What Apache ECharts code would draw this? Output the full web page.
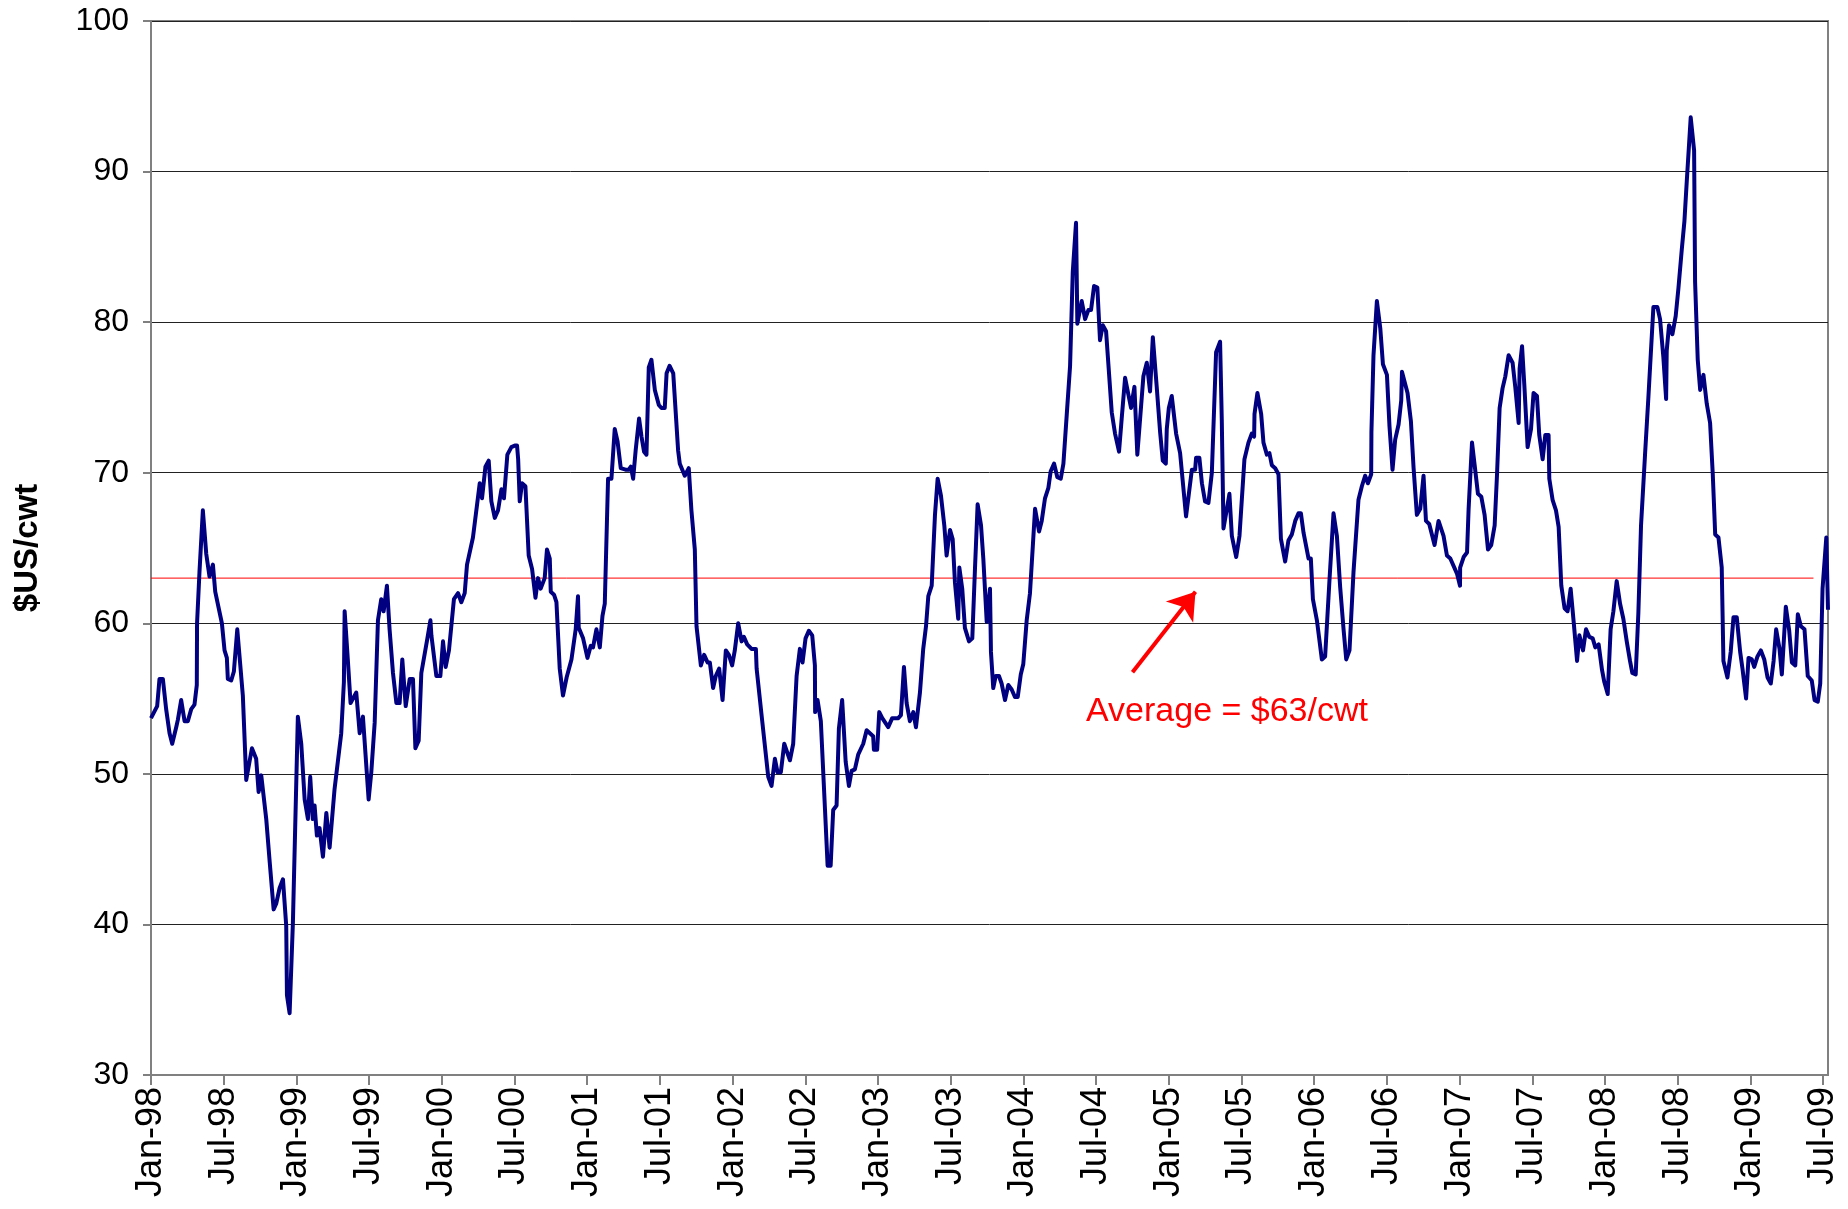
<!DOCTYPE html>
<html><head><meta charset="utf-8">
<script src="https://cdn.jsdelivr.net/npm/echarts@6/dist/echarts.min.js"></script>
<style>html,body{margin:0;padding:0;background:#fff}#c{width:1848px;height:1209px}</style>
</head><body><div id="c"></div><script>
// x positions: months since Jan-1998, values in $US/cwt
const tickLabels = ['Jan-98','Jul-98','Jan-99','Jul-99','Jan-00','Jul-00','Jan-01','Jul-01','Jan-02','Jul-02','Jan-03','Jul-03','Jan-04','Jul-04','Jan-05','Jul-05','Jan-06','Jul-06','Jan-07','Jul-07','Jan-08','Jul-08','Jan-09','Jul-09'];
const months = [0.0,0.51,0.70,0.98,1.25,1.53,1.75,2.08,2.22,2.49,2.77,3.04,3.32,3.59,3.78,3.80,4.0,4.28,4.56,4.83,5.11,5.30,5.85,6.07,6.26,6.34,6.62,6.84,7.12,7.58,7.86,8.33,8.68,8.88,9.10,9.51,9.79,10.12,10.34,10.61,10.89,11.16,11.22,11.44,11.71,12.12,12.40,12.68,12.95,13.14,13.35,13.5,13.69,13.91,14.19,14.47,14.74,15.15,15.70,15.92,15.98,16.25,16.47,16.94,17.22,17.49,17.96,18.18,18.46,18.73,19.0,19.2,19.47,19.69,19.97,20.25,20.52,20.74,21.02,21.35,21.62,21.82,22.09,22.31,22.81,23.06,23.14,23.55,23.88,24.1,24.32,24.59,25.0,25.34,25.61,25.89,26.08,26.57,27.13,27.32,27.6,27.87,28.09,28.37,28.64,28.92,29.13,29.41,29.74,30.02,30.21,30.3,30.43,30.62,30.9,31.17,31.45,31.73,31.94,32.16,32.49,32.68,32.91,32.99,33.26,33.46,33.73,34.0,34.3,34.7,35.05,35.24,35.3,35.66,36.02,36.29,36.48,36.76,37.04,37.26,37.45,37.72,38.0,38.27,38.5,38.77,39.16,39.43,39.6,39.79,40.0,40.28,40.48,40.69,40.89,41.08,41.3,41.58,41.91,42.13,42.4,42.55,42.8,43.1,43.5,43.64,44.05,44.38,44.6,44.88,45.02,45.38,45.65,45.93,46.12,46.39,46.61,46.89,47.17,47.44,47.69,47.96,48.18,48.46,48.74,48.93,49.2,49.56,49.92,49.98,50.39,50.94,51.21,51.49,51.71,51.98,52.26,52.73,53.0,53.28,53.55,53.77,54.02,54.29,54.57,54.79,54.81,55.01,55.28,55.62,55.84,56.09,56.3,56.58,56.77,57.04,57.33,57.6,57.82,58.09,58.37,58.78,59.06,59.6,59.66,59.93,60.1,60.35,60.84,61.17,61.67,61.89,62.14,62.36,62.63,62.91,63.13,63.46,63.73,63.96,64.15,64.43,64.7,64.92,65.19,65.47,65.66,65.94,66.16,66.35,66.62,66.71,66.95,67.17,67.51,67.78,68.0,68.22,68.5,68.69,68.97,69.05,69.24,69.32,69.51,69.71,69.98,70.2,70.48,70.75,71.03,71.3,71.53,71.78,71.99,72.27,72.54,72.96,73.29,73.51,73.78,74.06,74.25,74.53,74.8,75.08,75.3,75.57,75.85,76.07,76.34,76.45,76.59,76.81,77.09,77.36,77.58,77.83,78.1,78.32,78.55,78.82,79.29,79.56,79.89,80.11,80.39,80.88,81.16,81.4,81.9,82.18,82.45,82.68,83.0,83.28,83.5,83.75,83.83,84.0,84.24,84.6,84.93,85.42,85.9,86.17,86.25,86.52,86.73,86.99,87.27,87.55,87.9,88.23,88.37,88.51,88.79,89.0,89.2,89.56,89.83,90.24,90.57,90.85,91.04,91.07,91.31,91.62,91.81,92.09,92.3,92.5,92.78,93.05,93.25,93.6,93.87,94.15,94.43,94.7,94.9,95.12,95.53,95.72,95.86,95.89,96.22,96.63,96.9,97.26,97.59,97.87,98.14,98.42,98.64,98.91,99.24,99.65,99.93,100.2,100.43,100.7,100.72,100.89,101.17,101.45,101.67,102.0,102.21,102.46,102.68,102.96,103.18,103.24,103.7,103.98,104.2,104.47,104.75,105.02,105.22,105.49,105.93,106.26,106.67,106.95,107.23,107.78,108.03,108.04,108.33,108.61,108.74,109.02,109.24,109.51,109.79,110.06,110.34,110.61,110.89,111.08,111.3,111.54,111.77,112.04,112.37,112.59,112.87,112.95,113.15,113.34,113.61,113.89,114.1,114.38,114.57,114.85,115.07,115.34,115.4,115.67,115.95,116.17,116.39,116.66,116.91,117.16,117.41,117.69,117.88,118.18,118.43,118.7,118.98,119.2,119.47,119.75,119.94,120.22,120.46,120.69,120.96,121.24,121.51,121.79,122.06,122.25,122.53,122.75,122.97,123.3,123.57,123.99,124.32,124.54,124.81,125.04,125.09,125.28,125.56,125.83,126.05,126.33,126.55,126.74,127.07,127.35,127.43,127.65,127.85,128.12,128.39,128.67,128.89,129.09,129.36,129.63,129.77,130.1,130.37,130.6,130.87,131.15,131.34,131.64,131.84,132.11,132.31,132.58,132.86,133.14,133.41,133.68,133.91,134.12,134.4,134.59,134.92,135.2,135.42,135.7,135.91,136.16,136.46,136.73,137.06,137.29,137.56,137.76,137.95,138.26,138.4];
const prices = [53.7,54.5,56.3,56.3,54.3,52.7,52.0,53.1,53.6,54.9,53.5,53.5,54.3,54.6,55.9,60.0,63.4,67.5,64.6,63.1,63.9,62.1,60.0,58.2,57.7,56.3,56.2,56.8,59.6,55.2,49.6,51.7,51.0,48.8,49.9,47.0,44.2,41.0,41.4,42.4,43.0,39.9,35.3,34.1,40.1,53.8,52.0,48.3,47.0,49.8,47.0,47.9,45.9,46.4,44.5,47.4,45.1,49.0,52.7,56.1,60.8,57.5,54.7,55.4,52.7,53.8,48.3,50.1,53.4,60.2,61.6,60.8,62.5,59.6,56.7,54.7,54.7,57.6,54.5,56.3,56.3,51.7,52.2,56.7,59.0,60.2,59.2,56.5,56.5,58.8,57.1,58.2,61.6,62.0,61.4,62.0,63.9,65.7,69.3,68.3,70.4,70.8,68.1,67.0,67.5,68.9,68.3,71.2,71.7,71.8,71.8,70.9,68.1,69.3,69.1,64.5,63.6,61.7,63.0,62.3,63.0,64.9,64.3,62.1,61.9,61.4,57.0,55.2,56.4,57.6,59.6,61.8,59.7,59.0,57.7,58.5,58.4,59.6,58.4,60.5,61.3,69.6,69.6,72.9,72.1,70.3,70.2,70.2,70.4,69.6,71.5,73.6,72.4,71.4,71.2,77.0,77.5,75.5,74.5,74.3,74.3,76.6,77.1,76.6,71.5,70.6,69.8,70.3,67.5,64.9,59.8,57.2,57.9,57.4,57.4,55.7,56.5,57.0,54.9,58.2,57.9,57.2,58.2,60.0,58.8,59.1,58.6,58.3,58.3,57.0,53.9,49.8,49.2,51.0,50.1,50.1,52.0,50.9,52.0,56.5,58.3,57.4,59.0,59.5,59.2,57.2,54.1,54.9,53.5,47.7,43.9,43.9,47.6,47.9,53.0,54.9,50.8,49.2,50.2,50.3,51.3,52.0,52.9,52.5,51.6,51.6,54.1,53.7,53.1,53.7,53.7,53.9,57.1,54.7,53.5,54.1,53.1,55.4,58.3,59.8,61.8,62.5,67.2,69.6,68.5,66.5,64.5,66.2,65.6,62.7,60.3,63.7,62.3,59.7,58.8,59.0,63.6,67.9,66.5,64.3,60.1,60.1,62.3,58.1,55.7,56.5,56.5,56.0,54.9,55.9,55.6,55.1,55.1,56.6,57.3,60.2,62.0,67.6,66.1,66.8,68.3,69.0,70.1,70.6,69.7,69.6,70.6,73.8,77.1,83.3,86.6,79.9,79.9,81.4,80.2,80.8,80.8,82.4,82.3,78.8,79.8,79.4,74.0,72.6,71.4,73.6,76.3,74.3,75.7,71.2,76.4,77.3,75.4,79.0,75.7,72.7,70.8,70.6,72.9,74.3,75.1,72.6,71.3,67.1,70.2,70.2,71.0,71.0,69.3,68.1,68.0,70.0,78.0,78.7,73.5,66.3,67.6,68.6,65.8,64.4,65.8,70.9,72.0,72.6,72.4,73.9,75.3,73.9,72.0,71.2,71.3,70.5,70.3,69.9,65.6,64.1,65.5,65.9,66.8,67.3,67.3,66.0,64.3,64.3,64.3,61.6,60.2,57.6,57.8,62.9,67.3,65.8,62.4,59.6,57.6,58.2,63.4,68.2,69.1,69.8,69.3,69.9,72.7,77.8,81.4,79.6,77.2,76.5,73.1,70.2,72.2,73.2,74.8,76.7,75.3,73.4,70.3,67.2,67.6,69.8,66.8,66.6,65.2,66.8,65.8,64.5,64.3,63.3,62.5,63.7,64.4,64.7,67.6,72.0,70.5,68.6,68.4,67.2,64.9,65.2,66.5,69.8,74.3,75.6,76.4,77.8,77.3,75.7,73.3,76.9,78.4,75.8,71.7,72.9,75.3,75.1,72.5,70.9,72.5,72.5,69.6,68.2,67.5,66.4,62.5,61.0,60.8,62.3,60.1,57.5,59.2,58.2,59.6,59.1,59.0,58.4,58.6,56.9,56.1,55.3,59.6,60.8,62.8,61.3,60.3,58.8,57.5,56.7,56.6,60.7,66.5,71.2,74.9,81.0,81.0,80.2,77.7,74.9,78.1,79.8,79.2,80.4,82.2,84.8,86.7,89.3,93.6,91.4,82.7,77.5,75.5,76.5,74.6,73.3,69.9,65.9,65.7,63.7,57.5,56.4,58.1,60.4,60.4,58.1,57.0,55.0,57.7,57.6,57.1,57.8,58.2,57.6,56.4,56.0,57.5,59.6,58.3,56.6,61.1,59.5,57.4,57.2,60.6,59.8,59.6,56.5,56.2,54.9,54.8,56.0,62.3,65.7,60.9];
const averagePrice = 63;
const averageSpan = [0, 137.2];
const averageLabel = 'Average = $' + averagePrice + '/cwt';

const FONT = "'Liberation Sans', Arial, sans-serif";
const chart = echarts.init(document.getElementById('c'), null, {renderer: 'canvas'});
chart.setOption({
  animation: false,
  backgroundColor: '#ffffff',
  textStyle: {fontFamily: FONT},
  grid: {left: 151, right: 20, top: 21, bottom: 134, show: true, borderColor: '#808080', borderWidth: 2, backgroundColor: 'transparent'},
  xAxis: {
    type: 'value', min: 0, max: 138.4, interval: 6,
    axisLine: {onZero: false, lineStyle: {color: '#808080', width: 2}},
    axisTick: {show: true, length: 10, lineStyle: {color: '#808080', width: 2}},
    splitLine: {show: false},
    axisLabel: {
      rotate: 90, fontSize: 36, color: '#000', margin: 12, fontFamily: FONT,
      showMaxLabel: false,
      formatter: function (v) {
        const k = Math.round(v / 6);
        if (Math.abs(v - k * 6) > 1e-6) return '';
        return tickLabels[k] || '';
      }
    }
  },
  yAxis: {
    type: 'value', min: 30, max: 100, interval: 10,
    name: '$US/cwt', nameLocation: 'middle', nameGap: 107,
    nameTextStyle: {fontSize: 33, fontWeight: 'bold', color: '#000', fontFamily: FONT},
    axisLine: {show: true, lineStyle: {color: '#808080', width: 2}},
    axisTick: {show: true, length: 8, lineStyle: {color: '#808080', width: 2}},
    axisLabel: {fontSize: 32, color: '#000', margin: 22, fontFamily: FONT},
    splitLine: {show: true, lineStyle: {color: '#222', width: 1}}
  },
  series: [
    {
      name: 'Average', type: 'line', z: 2, silent: true, symbol: 'none',
      data: [[averageSpan[0], averagePrice], [averageSpan[1], averagePrice]],
      lineStyle: {color: '#ff0000', width: 1},
      markLine: {
        silent: true, symbol: ['none', 'arrow'], symbolSize: 26,
        lineStyle: {color: '#ff0000', width: 4, type: 'solid'},
        itemStyle: {color: '#ff0000'},
        label: {show: false},
        emphasis: {disabled: true},
        data: [[
          {coord: [81.0, 56.75], symbol: 'none'},
          {coord: [86.2, 62.1], symbol: 'arrow', symbolSize: 26, itemStyle: {color: '#ff0000'}}
        ]]
      },
      markPoint: {
        silent: true, symbol: 'circle', symbolSize: 0,
        label: {show: true, position: 'inside', formatter: averageLabel, color: '#ff0000', fontSize: 34, fontFamily: FONT},
        data: [{coord: [88.8, 54.1]}]
      }
    },
    {
      name: 'Price', type: 'line', z: 3, symbol: 'none',
      data: months.map((m, i) => [m, prices[i]]),
      lineStyle: {color: '#000080', width: 4, join: 'round'}
    }
  ]
});
</script></body></html>
